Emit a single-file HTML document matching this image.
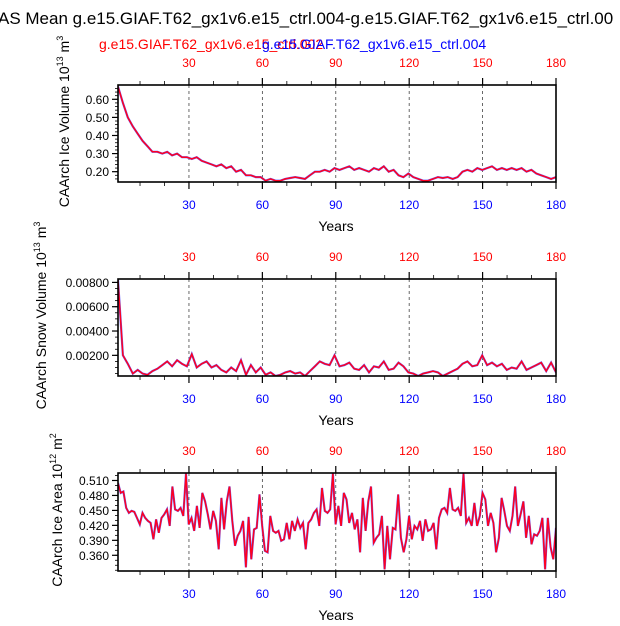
<!DOCTYPE html>
<html><head><meta charset="utf-8">
<style>
body{margin:0;background:#fff;}
svg text{font-family:"Liberation Sans",sans-serif;}
</style></head>
<body>
<svg id="chart" width="620" height="621" xmlns="http://www.w3.org/2000/svg">
<text x="-2" y="24" font-size="17">AS Mean g.e15.GIAF.T62_gx1v6.e15_ctrl.004-g.e15.GIAF.T62_gx1v6.e15_ctrl.00</text>
<text x="99" y="49" font-size="14" fill="#ff0000">g.e15.GIAF.T62_gx1v6.e15_ctrl.002</text>
<text x="262" y="49" font-size="14" fill="#0000ff">g.e15.GIAF.T62_gx1v6.e15_ctrl.004</text>
</svg>
<script>
const xTicks=[30,60,90,120,150,180];
const volValues=[0.67,0.58,0.50,0.45,0.41,0.37,0.34,0.31,0.31,0.30,0.31,0.29,0.30,0.28,0.28,0.27,0.28,0.26,0.25,0.24,0.23,0.24,0.22,0.23,0.20,0.21,0.18,0.18,0.17,0.17,0.15,0.16,0.15,0.15,0.16,0.165,0.17,0.165,0.16,0.18,0.20,0.20,0.21,0.20,0.22,0.21,0.22,0.23,0.21,0.22,0.21,0.20,0.22,0.21,0.23,0.20,0.21,0.18,0.17,0.19,0.17,0.16,0.15,0.15,0.16,0.17,0.165,0.17,0.16,0.17,0.20,0.21,0.20,0.22,0.21,0.22,0.23,0.21,0.22,0.21,0.22,0.21,0.22,0.20,0.21,0.19,0.18,0.17,0.16,0.17];
const snowValues=[8.2,2.0,1.3,0.5,0.8,0.5,0.4,0.7,0.9,1.2,1.5,1.1,1.6,1.3,1.1,2.1,1.0,1.3,1.5,1.0,1.2,0.8,0.6,1.0,0.7,1.6,0.4,1.2,0.6,1.0,0.4,0.6,0.3,0.4,0.6,0.7,0.5,0.6,0.3,0.7,1.1,1.5,1.3,1.2,2.0,1.1,1.2,1.4,0.9,0.8,1.2,0.6,1.1,1.0,1.5,0.8,0.9,1.4,1.1,0.6,0.5,0.3,0.5,0.6,0.7,0.6,0.3,0.5,0.7,0.9,1.3,1.5,1.1,1.2,2.0,1.2,1.4,1.1,1.3,0.8,1.0,0.9,1.5,0.8,1.0,1.2,1.4,0.7,1.4,0.6];
const areaZ=[70,100,95,145,160,155,158,175,195,160,175,185,190,240,180,220,175,165,150,200,80,150,155,145,170,42,195,175,215,140,205,100,125,165,210,155,185,270,115,210,125,80,185,260,230,215,185,325,172,300,210,205,105,200,275,280,170,215,220,215,245,240,190,240,185,215,180,205,190,270,190,180,160,150,200,85,155,160,150,42,195,140,200,100,120,190,160,210,180,280,115,215,125,80,250,235,225,170,330,200,300,205,210,105,235,280,240,170,240,200,210,185,245,180,215,210,190,270,175,150,145,160,85,150,155,145,170,42,190,175,200,130,200,170,100,120,200,160,190,280,235,115,155,200,215,170,80,200,165,125,235,170,255,225,230,215,175,330,175,265,300,205];
const areaValues=areaZ.map(z=>+(0.5515-z*0.000664).toFixed(3));
const volTicks=[0.20,0.30,0.40,0.50,0.60];
const snowTicks=[0.002,0.004,0.006,0.008];
const areaTicks=[0.360,0.390,0.420,0.450,0.480,0.510];

const svg=document.getElementById('chart');
const NS='http://www.w3.org/2000/svg';
const L=118,R=556;
function mk(tag,at,parent){const e=document.createElementNS(NS,tag);for(const k in at)e.setAttribute(k,at[k]);(parent||svg).appendChild(e);return e;}
const xs=v=>L+(v-1)/179*(R-L);

function panel(id,top,bot,ymin,ymax,vals,scale,ticks,fmt,ylab,sup,unitExp,labX,minorStep){
  const g=mk('g',{});
  
  
  const ys=v=>bot-(v-ymin)/(ymax-ymin)*(bot-top);
  xTicks.forEach(t=>{
    const x=xs(t);
    if(t<180){const gl=mk('line',{x1:x,x2:x,y1:top,y2:bot,stroke:'#444','stroke-width':0.8,'stroke-dasharray':'3,3'},g);
    
    }
    mk('line',{x1:x,x2:x,y1:top,y2:top-7,stroke:'#000','stroke-width':1.2},g);
    mk('line',{x1:x,x2:x,y1:bot,y2:bot+7,stroke:'#000','stroke-width':1.2},g);
    const tt=mk('text',{x:x,y:top-18,'font-size':12,fill:'#ff0000','text-anchor':'middle'},g);tt.textContent=t;
    
    
    const bt=mk('text',{x:x,y:bot+27,'font-size':12,fill:'#0000ff','text-anchor':'middle'},g);bt.textContent=t;
    
    
  });
  for(let m=10;m<180;m+=10){if(m%30===0)continue;const x=xs(m);
    mk('line',{x1:x,x2:x,y1:top,y2:top-4,stroke:'#000','stroke-width':0.8},g);
    mk('line',{x1:x,x2:x,y1:bot,y2:bot+4,stroke:'#000','stroke-width':0.8},g);}
  for(let v=Math.ceil(ymin/minorStep)*minorStep;v<=ymax;v+=minorStep){const y=ys(v);
    mk('line',{x1:L,x2:L-3,y1:y,y2:y,stroke:'#000','stroke-width':0.8},g);}
  ticks.forEach(t=>{const y=ys(t);
    mk('line',{x1:L,x2:L-6,y1:y,y2:y,stroke:'#000','stroke-width':1.2},g);
    const tx=mk('text',{x:L-9,y:y+4.5,'font-size':12,'text-anchor':'end'},g);tx.textContent=fmt(t);
    
    });
  const n=vals.length;
  const pts=vals.map((v,i)=>xs(1+i*179/(n-1)).toFixed(1)+','+ys(v*scale).toFixed(1)).join(' ');
  const cp=mk('clipPath',{id:'c'+id},g);mk('rect',{x:L,y:top,width:R-L,height:bot-top},cp);
  const b=mk('polyline',{points:pts,fill:'none',stroke:'#6060ff','stroke-width':2.2,'clip-path':'url(#c'+id+')'},g);
  
  
  const r=mk('polyline',{points:pts,fill:'none',stroke:'#ff0020','stroke-width':1.5,'clip-path':'url(#c'+id+')'},g);
  
  
  const fr=mk('rect',{x:L,y:top,width:R-L,height:bot-top,fill:'none',stroke:'#000','stroke-width':1.6},g);
  
  
  const xl=mk('text',{x:(L+R)/2-1,y:bot+49,'font-size':14,'text-anchor':'middle'},g);xl.textContent='Years';
  
  
  const cy=(top+bot)/2-12;
  const yl=mk('text',{x:0,y:0,'font-size':14,'text-anchor':'middle',transform:'translate('+labX+','+cy+') rotate(-90)'},g);
  yl.innerHTML=ylab+' 10<tspan dy="-6" font-size="9">'+unitExp+'</tspan><tspan dy="6"> m</tspan><tspan dy="-6" font-size="9">'+sup+'</tspan>';
  
  
}
panel('volume',85,182,0.143,0.679,volValues,1,volTicks,t=>t.toFixed(2),'CAArch Ice Volume','3','13',69,0.02);
panel('snow',279,376,0.0003,0.00828,snowValues,0.001,snowTicks,t=>t.toFixed(5),'CAArch Snow Volume','3','13',46,0.0005);
panel('area',473,571,0.3285,0.525,areaValues,1,areaTicks,t=>t.toFixed(3),'CAArch Ice Area','2','12',62,0.01);
</script>
</body></html>
